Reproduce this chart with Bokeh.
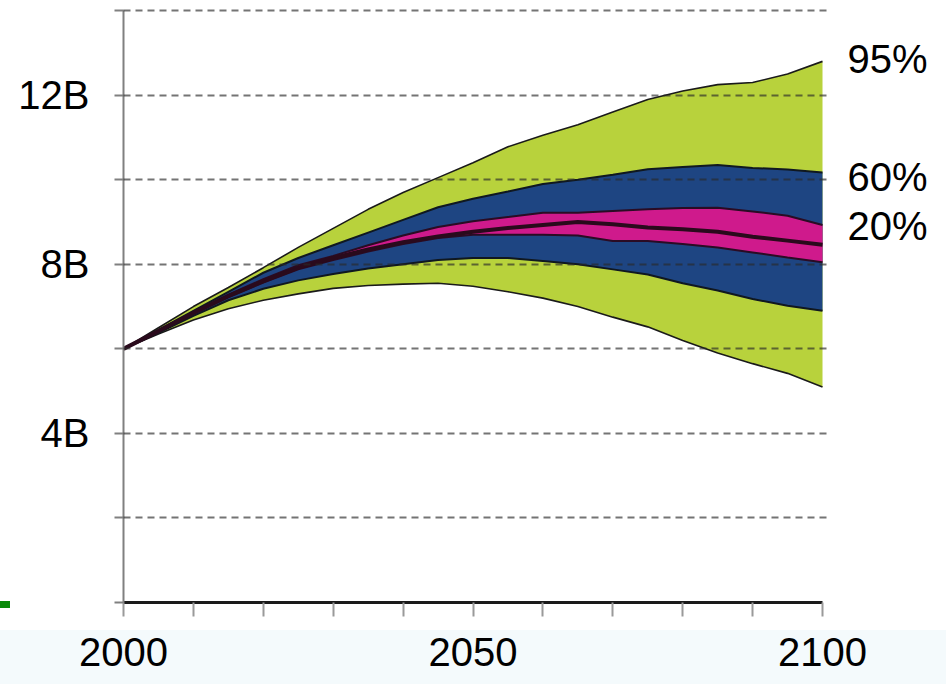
from bokeh.plotting import figure
from bokeh.models import FixedTicker, Range1d, LinearAxis
from bokeh.embed import file_html
from bokeh.resources import INLINE

# ---- data (billions) ----
years = [2000, 2005, 2010, 2015, 2020, 2025, 2030, 2035, 2040, 2045, 2050,
         2055, 2060, 2065, 2070, 2075, 2080, 2085, 2090, 2095, 2100]
upper95 = [6.0, 6.5, 7.0, 7.45, 7.92, 8.4, 8.85, 9.3, 9.7, 10.05, 10.4,
           10.78, 11.05, 11.3, 11.6, 11.9, 12.1, 12.25, 12.3, 12.5, 12.8]
upper60 = [6.0, 6.45, 6.9, 7.35, 7.8, 8.15, 8.45, 8.75, 9.05, 9.35, 9.55,
           9.72, 9.9, 10.0, 10.12, 10.25, 10.3, 10.35, 10.28, 10.24, 10.17]
upper20 = [6.0, 6.43, 6.87, 7.28, 7.65, 7.98, 8.2, 8.45, 8.68, 8.88, 9.02,
           9.12, 9.22, 9.22, 9.26, 9.3, 9.33, 9.34, 9.25, 9.15, 8.93]
median = [6.0, 6.42, 6.85, 7.25, 7.6, 7.92, 8.15, 8.35, 8.52, 8.66, 8.77,
          8.86, 8.93, 9.0, 8.95, 8.87, 8.83, 8.77, 8.65, 8.56, 8.46]
lower20 = [6.0, 6.41, 6.83, 7.22, 7.57, 7.88, 8.1, 8.3, 8.48, 8.62, 8.7,
           8.7, 8.7, 8.68, 8.55, 8.55, 8.48, 8.4, 8.28, 8.16, 8.05]
lower60 = [6.0, 6.38, 6.78, 7.15, 7.42, 7.62, 7.77, 7.9, 8.0, 8.1, 8.15,
           8.15, 8.08, 8.0, 7.88, 7.76, 7.55, 7.38, 7.18, 7.02, 6.9]
lower95 = [6.0, 6.35, 6.68, 6.95, 7.15, 7.3, 7.43, 7.5, 7.53, 7.55, 7.48,
           7.35, 7.2, 7.0, 6.75, 6.52, 6.2, 5.9, 5.65, 5.42, 5.1]

y_ticks = [0, 2, 4, 6, 8, 10, 12, 14]
y_tick_labels = {4: "4B", 8: "8B", 12: "12B"}
x_ticks = list(range(2000, 2101, 10))
x_tick_labels = {2000: "2000", 2050: "2050", 2100: "2100"}
band_names = ["95%", "60%", "20%"]
band_label_y = [12.85, 10.07, 8.9]

GREEN = "#b8d23c"
BLUE = "#1e4582"
MAGENTA = "#cf1a8c"
FONT = "Liberation Sans"
FS = "40px"

W, H = 946, 684
p = figure(width=W, height=H, output_backend="svg", toolbar_location=None,
           x_range=Range1d(2000, 2101), y_range=Range1d(0, 14.24),
           min_border_left=123, min_border_right=117, min_border_top=0,
           min_border_bottom=82)
p.outline_line_color = None
p.background_fill_color = "white"
p.border_fill_color = None
# page decoration: light strip along the bottom and a small green mark
p.styles = {
    "background": ("linear-gradient(#0a8a0a, #0a8a0a) 0px 601px / 10px 7px no-repeat, "
                   "linear-gradient(to bottom, #ffffff 0px, #ffffff 630px, "
                   "#f4fafc 630px, #f4fafc 100%)")
}

# bands
p.varea(x=years, y1=lower95, y2=upper95, fill_color=GREEN)
p.varea(x=years, y1=lower60, y2=upper60, fill_color=BLUE)
p.varea(x=years, y1=lower20, y2=upper20, fill_color=MAGENTA)

for ys in (upper95, lower95):
    p.line(years, ys, line_color="#1a1a1a", line_width=1.6)
for ys in (upper60, lower60):
    p.line(years, ys, line_color="#101820", line_width=2)
for ys in (upper20, lower20):
    p.line(years, ys, line_color="#2a0c24", line_width=2)
p.line(years, median, line_color="#2a0a1c", line_width=4)

# grid
p.xgrid.grid_line_color = None
p.ygrid.ticker = FixedTicker(ticks=y_ticks)
p.ygrid.grid_line_color = "#2a2a2a"
p.ygrid.grid_line_alpha = 0.65
p.ygrid.grid_line_width = 2
p.ygrid.grid_line_dash = "7 5"
p.ygrid.level = "annotation"

# y axis
ya = p.yaxis[0]
ya.ticker = FixedTicker(ticks=y_ticks)
ya.major_label_overrides = {t: y_tick_labels.get(t, "") for t in y_ticks}
ya.bounds = (0, 14)
ya.axis_line_color = "#808080"
ya.axis_line_width = 2
ya.major_tick_line_color = "#808080"
ya.major_tick_line_width = 2
ya.major_tick_out = 9
ya.major_tick_in = 0
ya.minor_tick_line_color = None
ya.major_label_standoff = 25
ya.major_label_text_font = FONT
ya.major_label_text_font_size = FS
ya.major_label_text_color = "black"

# x axis
xa = p.xaxis[0]
xa.ticker = FixedTicker(ticks=x_ticks)
xa.major_label_overrides = {t: x_tick_labels.get(t, "") for t in x_ticks}
xa.bounds = (2000, 2100)
xa.axis_line_color = "#1a1a1a"
xa.axis_line_width = 3
xa.major_tick_line_color = "#9a9a9a"
xa.major_tick_line_width = 2
xa.major_tick_out = 14
xa.major_tick_in = 0
xa.minor_tick_line_color = None
xa.major_label_standoff = 21
xa.major_label_text_font = FONT
xa.major_label_text_font_size = FS
xa.major_label_text_color = "black"

# right-hand axis carrying the band labels
ra = LinearAxis(ticker=FixedTicker(ticks=band_label_y),
                major_label_overrides=dict(zip(band_label_y, band_names)))
ra.axis_line_color = None
ra.major_tick_line_color = None
ra.minor_tick_line_color = None
ra.major_label_standoff = 12
ra.major_label_text_font = FONT
ra.major_label_text_font_size = FS
ra.major_label_text_color = "black"
p.add_layout(ra, "right")

open("out.html", "w").write(file_html(p, INLINE))
